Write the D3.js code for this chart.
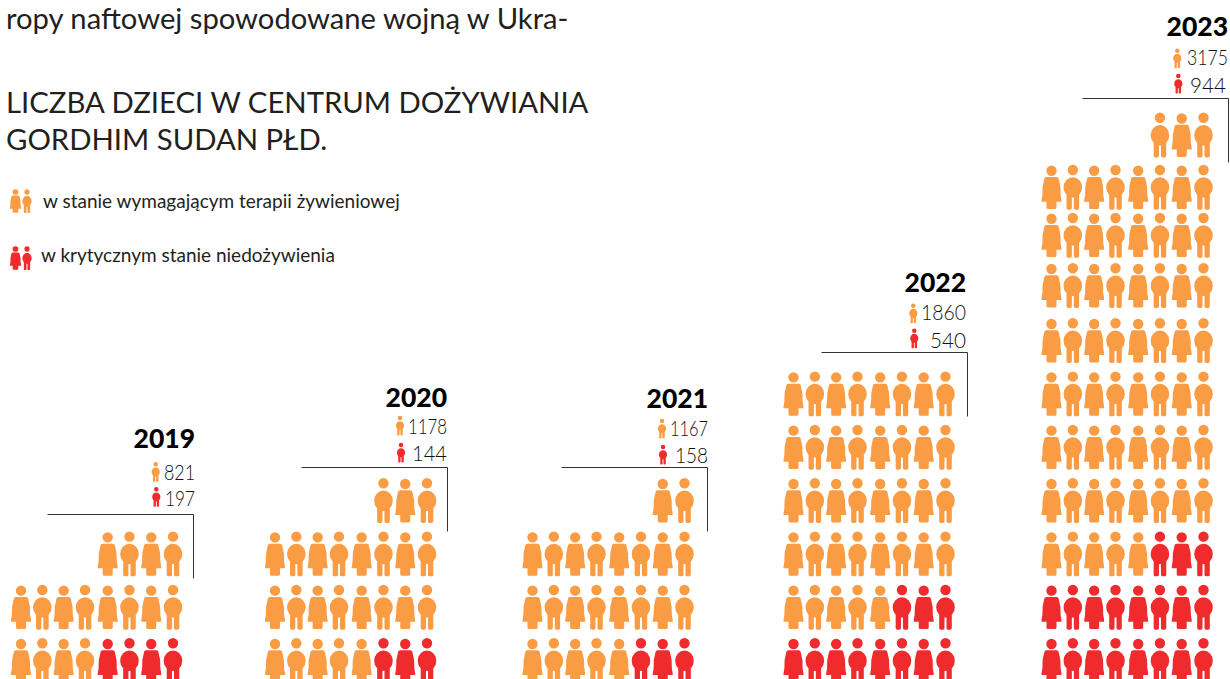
<!DOCTYPE html>
<html lang="pl">
<head>
    <meta charset="UTF-8">
    <title>Liczba dzieci w centrum dożywiania Gordhim</title>
    <script src="https://d3js.org/d3.v7.min.js"></script>
    <style>
        body { margin: 0; background: #fff; overflow: hidden; }
        svg { display: block; }
        text { font-family: Lato, sans-serif; fill: #231f20; }
        .intro { font-size: 29.2px; }
        .title { font-size: 29.3px; }
        .legend-label { font-size: 19px; }
        .year { font-weight: 900; font-size: 26.5px; text-anchor: end; fill: #000; }
        .count { font-weight: 300; font-size: 22px; text-anchor: end; fill: #111; }
        .bracket { fill: none; stroke: #333; stroke-width: 1; }
    </style>
</head>
<body>
    <svg width="1230" height="679"></svg>

    <script>
        // one figure stands for 50 children
        const unit = 50;
        const years = ['2019', '2020', '2021', '2022', '2023'];
        const nutrition = [821, 1178, 1167, 1860, 3175];
        const critical = [197, 144, 158, 540, 944];
        const legendLabels = ['w stanie wymagającym terapii żywieniowej', 'w krytycznym stanie niedożywienia'];

        const colors = { nutrition: '#f99c44', critical: '#ef2b2d' };
        const perRow = 8;

        const byYear = range => d3.scaleOrdinal().domain(years).range(range);

        // layout of each panel
        const blockLeft = byYear([21, 275, 532.5, 793.5, 1051.5]);
        const textRight = byYear([195, 447, 708, 966, 1228]);
        const yearBase = byYear([448, 406.5, 408, 292, 36]);
        const nutritionBase = byYear([479.5, 434, 436, 320, 65]);
        const criticalBase = byYear([506, 461, 463, 348, 92.7]);
        const nutritionWidth = byYear([31, 39, 38, 45, 41]);
        const criticalWidth = byYear([30, 35, 33, 36, 36]);
        const nutritionIconX = byYear([155.7, 400, 662, 913.3, 1177.3]);
        const criticalIconX = byYear([156.3, 401, 663, 914.3, 1178.3]);
        const nutritionIconY = byYear([464.3, 418, 421, 305.7, 50.7]);
        const criticalIconY = byYear([489.3, 445, 447, 330.7, 76]);
        const bracketRight = byYear([193.5, 447.5, 707.5, 967.5, 1228.5]);
        const bracketY = byYear([514.5, 467.5, 467.5, 352.5, 98.5]);

        // rows get squeezed near the top of the page in the original
        const rowY = d3.scaleLinear().domain([0, 6, 7, 8, 9, 10]).range([644, 324, 269, 218.7, 170.7, 118.5]);
        const colX = d3.scaleLinear().domain([0, 3, 4, 7]).range([0, 64, 86.7, 152]);

        const head = 'M-5.2 0a5.2 5.2 0 1 1 10.4 0a5.2 5.2 0 1 1 -10.4 0Z';
        const girl = head +
            'M-5 6.3H5C6.2 6.3 6.9 7 7.2 8.2L8.9 16L9.1 24L10 29.7V31H5V36.8Q5 38.4 3.4 38.4H-3.4Q-5 38.4 -5 36.8V31H-10V29.7L-9.1 24L-8.9 16L-7.2 8.2C-6.9 7 -6.2 6.3 -5 6.3Z';
        const boy = head +
            'M-9.3 17.4A9.3 10.2 0 1 1 9.3 17.4A9.3 10.2 0 1 1 -9.3 17.4Z' +
            'M1 24H6.3V38Q6.3 39.7 4.6 39.7H2.7Q1 39.7 1 38Z' +
            'M-6.3 24H-1V38Q-1 39.7 -2.7 39.7H-4.6Q-6.3 39.7 -6.3 38Z';

        const svg = d3.select('svg');

        svg.append('text').attr('class', 'intro').attr('x', 6).attr('y', 29)
            .text('ropy naftowej spowodowane wojną w Ukra-');
        svg.append('text').attr('class', 'title').attr('x', 6).attr('y', 113)
            .text('LICZBA DZIECI W CENTRUM DOŻYWIANIA');
        svg.append('text').attr('class', 'title').attr('x', 6).attr('y', 150)
            .text('GORDHIM SUDAN PŁD.');

        // legend
        const legend = svg.append('g');
        [colors.nutrition, colors.critical].forEach((color, i) => {
            const headY = [192, 249][i];
            legend.append('path').attr('d', girl).attr('fill', color)
                .attr('transform', `translate(15.5,${headY}) scale(0.56,0.54)`);
            legend.append('path').attr('d', boy).attr('fill', color)
                .attr('transform', `translate(27,${headY}) scale(0.5,0.53)`);
            legend.append('text').attr('class', 'legend-label')
                .attr('x', [43, 41][i]).attr('y', [208, 262][i])
                .text(legendLabels[i]);
        });

        // the original numbers are in a narrower face, so squeeze Lato to the same width
        function addCount(g, value, right, base, width) {
            const t = g.append('text').attr('class', 'count').text(value);
            const natural = t.node().getComputedTextLength();
            t.attr('transform', `translate(${right},${base}) scale(${width / natural},1)`);
        }

        years.forEach((year, k) => {
            const g = svg.append('g').attr('class', 'panel');
            const right = textRight(year);

            // figures are filled from the bottom right, red ones first
            const reds = Math.round(critical[k] / unit);
            const oranges = Math.round(nutrition[k] / unit);
            const figures = d3.range(reds + oranges).map(i => ({
                row: Math.floor(i / perRow),
                col: perRow - 1 - i % perRow,
                color: i < reds ? colors.critical : colors.nutrition
            }));

            g.selectAll('path.figure')
                .data(figures)
                .join('path')
                .attr('class', 'figure')
                .attr('d', d => d.col % 2 === 0 ? girl : boy)
                .attr('fill', d => d.color)
                .attr('transform', d => `translate(${blockLeft(year) + colX(d.col)},${rowY(d.row) - (d.col % 2 === 0 ? 0 : 0.7)})`);

            // bracket
            const bx = bracketRight(year);
            const by = bracketY(year);
            g.append('path').attr('class', 'bracket')
                .attr('d', d3.line()([[bx - 146, by], [bx, by], [bx, by + 64]]));

            // header
            g.append('text').attr('class', 'year')
                .attr('x', right).attr('y', yearBase(year))
                .text(year);
            addCount(g, nutrition[k], right, nutritionBase(year), nutritionWidth(year));
            addCount(g, critical[k], right - (k === 4 ? 2 : 0), criticalBase(year), criticalWidth(year));

            g.append('path').attr('d', boy).attr('fill', colors.nutrition)
                .attr('transform', `translate(${nutritionIconX(year)},${nutritionIconY(year)}) scale(0.44)`);
            g.append('path').attr('d', boy).attr('fill', colors.critical)
                .attr('transform', `translate(${criticalIconX(year)},${criticalIconY(year)}) scale(0.44)`);
        });
    </script>
</body>
</html>
